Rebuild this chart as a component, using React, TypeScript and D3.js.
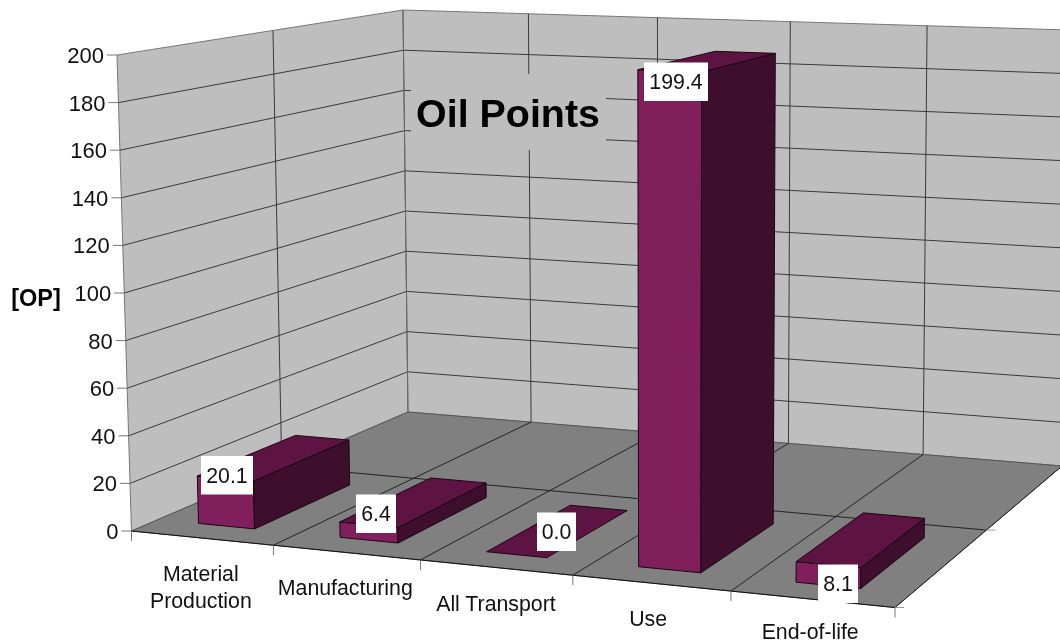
import React from "react";
import * as d3 from "d3";

type P = [number, number];

const categories = [["Material", "Production"], ["Manufacturing"], ["All Transport"], ["Use"], ["End-of-life"]];
const values = [20.1, 6.4, 0.0, 199.4, 8.1];
const valueLabels = ["20.1", "6.4", "0.0", "199.4", "8.1"];
const yTicks = [0, 20, 40, 60, 80, 100, 120, 140, 160, 180, 200];
const labelCenters: P[] = [[227, 475], [376, 513.5], [556.5, 531.5], [676, 81.5], [838, 583.5]];
const labelWidths = [52, 40, 39, 64, 40];
const categoryOffsets: P[] = [[-1, 35], [-1, 35], [0, 36], [-3, 35], [-2, 32]];

const W = 1060, H = 644;
const COL = { wall: "#bebebe", floor: "#808080", front: "#801f5c", top: "#5e1443", side: "#3e0f2c", grid: "#3a3a3a", text: "#111" };
const FONT = "'Liberation Sans', Arial, sans-serif";

// corners: front-left, front-right, back-right, back-left
const floorQuad: P[] = [[131.5, 531], [895, 607.5], [1062, 466], [408, 412]];
const topQuad: P[] = [[117, 55], [900.5, 83.5], [1068, 30], [403, 10]];

const homography = (p: P[]) => {
  const [[x0, y0], [x1, y1], [x2, y2], [x3, y3]] = p;
  const sx = x0 - x1 + x2 - x3, sy = y0 - y1 + y2 - y3;
  const dx1 = x1 - x2, dx2 = x3 - x2, dy1 = y1 - y2, dy2 = y3 - y2;
  const det = dx1 * dy2 - dx2 * dy1;
  const g = (sx * dy2 - dx2 * sy) / det, h = (dx1 * sy - sx * dy1) / det;
  const a = x1 - x0 + g * x1, b = x3 - x0 + h * x3, d = y1 - y0 + g * y1, e = y3 - y0 + h * y3;
  return (u: number, v: number): P => {
    const w = g * u + h * v + 1;
    return [(a * u + b * v + x0) / w, (d * u + e * v + y0) / w];
  };
};
const floorH = homography(floorQuad), topH = homography(topQuad);

const xBand = d3.scaleBand<number>().domain(d3.range(categories.length)).range([-0.002, 0.998]).paddingInner(0.6).paddingOuter(0.3);
const xGrid = d3.scaleLinear().domain([0, categories.length]).range([0, 1]);
const zScale = d3.scaleLinear().domain([0, 200]).range([0, 1]);
const depth = d3.scaleLinear().domain([0, 1]).range([0.083, 0.415]);

const project = (u: number, v: number, value: number): P => {
  const a = floorH(u, v), b = topH(u, v), t = zScale(value);
  return [a[0] + (b[0] - a[0]) * t, a[1] + (b[1] - a[1]) * t];
};

const line = d3.line<P>();
const poly = (pts: P[]) => line(pts)! + "Z";
const seg = (a: P, b: P) => line([a, b])!;

export default function App() {
  const ug = d3.range(categories.length + 1).map((i) => xGrid(i));
  const titleMask = { x: 411, y: 74, w: 195, h: 76 };
  return (
    <svg width={W} height={H} viewBox={`0 0 ${W} ${H}`} style={{ position: "fixed", left: 0, top: 0, background: "#fff", filter: "blur(0.35px)" }} fontFamily={FONT}>
      {/* walls */}
      <path d={poly([project(0, 0, 0), project(0, 1, 0), project(0, 1, 200), project(0, 0, 200)])} fill={COL.wall} stroke="#777" strokeWidth={1} />
      <path d={poly([project(0, 1, 0), project(1, 1, 0), project(1, 1, 200), project(0, 1, 200)])} fill={COL.wall} stroke="#777" strokeWidth={1} />
      {/* wall gridlines */}
      {yTicks.slice(1, -1).map((t) => (
        <path key={t} d={line([project(0, 0, t), project(0, 1, t), project(1, 1, t)])!} fill="none" stroke={COL.grid} strokeWidth={1} />
      ))}
      <path d={seg(project(0, 0.5, 0), project(0, 0.5, 200))} stroke={COL.grid} />
      {ug.slice(1, -1).map((u) => (
        <path key={u} d={seg(project(u, 1, 0), project(u, 1, 200))} stroke={COL.grid} />
      ))}
      <path d={seg(project(0, 1, 0), project(0, 1, 200))} stroke="#666" />
      {/* title background hides the gridlines behind it */}
      <rect x={titleMask.x} y={titleMask.y} width={titleMask.w} height={titleMask.h} fill={COL.wall} />
      <text x={508} y={127} textAnchor="middle" fontSize={39.4} fontWeight="bold" fill="#000">Oil Points</text>
      {/* floor */}
      <path d={poly([project(0, 0, 0), project(1, 0, 0), project(1, 1, 0), project(0, 1, 0)])} fill={COL.floor} stroke="#555" strokeWidth={1} />
      {ug.slice(1, -1).map((u) => (
        <path key={u} d={seg(project(u, 0, 0), project(u, 1, 0))} stroke="#222" />
      ))}
      <path d={seg(project(0, 0.5, 0), project(1, 0.5, 0))} stroke="#222" />
      <path d={seg(project(0, 0, 0), project(1, 0, 0))} stroke="#111" />
      <path d={seg(project(1, 0, 0), project(1, 1, 0))} stroke="#222" />
      {/* axis ticks and labels */}
      {yTicks.map((t) => {
        const [x, y] = project(0, 0, t);
        return (
          <g key={t}>
            <path d={`M${x - 10},${y}H${x}`} stroke="#777" />
            <text x={x - 13} y={y} dy="0.36em" textAnchor="end" fontSize={22} fill={COL.text}>{t}</text>
          </g>
        );
      })}
      {ug.map((u) => {
        const [x, y] = project(u, 0, 0);
        return <path key={u} d={`M${x},${y}v10`} stroke="#777" />;
      })}
      {[0, 0.5].map((v) => {
        const [x, y] = project(1, v, 0);
        return <path key={v} d={`M${x},${y}h9`} stroke="#999" />;
      })}
      {categories.map((lines, i) => {
        const [x, y] = project(xGrid(i + 0.5), 0, 0);
        const [dx, dy] = categoryOffsets[i];
        return (
          <text key={i} textAnchor="middle" fontSize={21.3} fill={COL.text}>
            {lines.map((l, j) => (
              <tspan key={j} x={x + dx} y={y + dy + j * 27.5} dy="0.36em">{l}</tspan>
            ))}
          </text>
        );
      })}
      <text x={36} y={298} dy="0.36em" textAnchor="middle" fontSize={23.5} fontWeight="bold" fill="#000">[OP]</text>
      {/* bars */}
      {values.map((val, i) => {
        const u0 = xBand(i)!, u1 = u0 + xBand.bandwidth();
        const v0 = depth(0), v1 = depth(1);
        return (
          <g key={i} stroke="#1c0514" strokeWidth={1} strokeLinejoin="round">
            {val > 0 && <path d={poly([project(u0, v0, 0), project(u1, v0, 0), project(u1, v0, val), project(u0, v0, val)])} fill={COL.front} />}
            {val > 0 && <path d={poly([project(u1, v0, 0), project(u1, v1, 0), project(u1, v1, val), project(u1, v0, val)])} fill={COL.side} />}
            <path d={poly([project(u0, v0, val), project(u1, v0, val), project(u1, v1, val), project(u0, v1, val)])} fill={COL.top} />
          </g>
        );
      })}
      {/* data labels */}
      {valueLabels.map((l, i) => {
        const [cx, cy] = labelCenters[i];
        const w = labelWidths[i];
        return (
          <g key={i}>
            <rect x={cx - w / 2} y={cy - 19} width={w} height={38.5} fill="#fff" />
            <text x={cx} y={cy} dy="0.36em" textAnchor="middle" fontSize={21.3} fill={COL.text}>{l}</text>
          </g>
        );
      })}
    </svg>
  );
}
